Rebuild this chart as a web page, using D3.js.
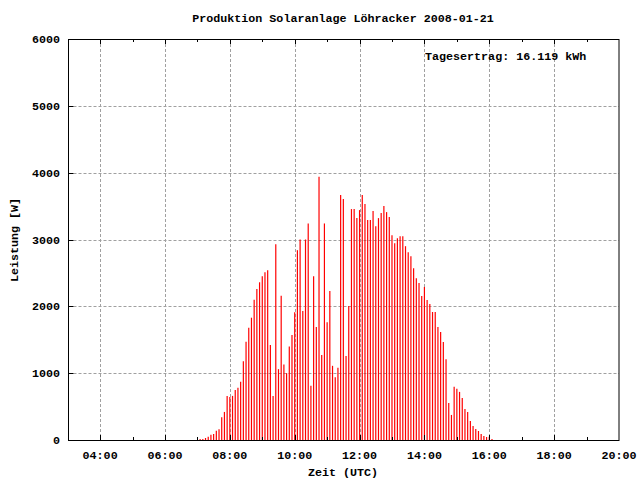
<!DOCTYPE html>
<html>
<head>
<meta charset="utf-8">
<script src="https://cdn.jsdelivr.net/npm/d3@7"></script>
<style>
  html, body { margin: 0; padding: 0; background: #fff; }
  text { font-family: "Liberation Mono", "DejaVu Sans Mono", monospace; font-weight: bold; font-size: 11.7px; fill: #000; }
</style>
</head>
<body>
<svg id="chart" width="640" height="480"></svg>
<script>
// ---- data ----
const title = "Produktion Solaranlage Löhracker 2008-01-21";
const annotation = "Tagesertrag: 16.119 kWh";
const xLabel = "Zeit (UTC)";
const yLabel = "Leistung [W]";
const startTime = "07:05";   // first sample
const stepMinutes = 5;       // sampling interval
const power = [
  15, 15, 30, 50, 80, 90, 140, 160, 340, 420,
  660, 645, 660, 750, 780, 870, 1180, 1470, 1680, 1830,
  2100, 2260, 2360, 2450, 2510, 2540, 1420, 660, 2930, 1060,
  2160, 1130, 1000, 1400, 1570, 1910, 2840, 3000, 1930, 3000,
  3240, 810, 2450, 1690, 3940, 1270, 3240, 1760, 2230, 1110,
  940, 1080, 3665, 3605, 1255, 2005, 3455, 3455, 3320, 3440,
  3665, 3530, 3290, 3290, 3425, 3200, 3320, 3395, 3500, 3410,
  3335, 3065, 2945, 3020, 3050, 3050, 2900, 2810, 2750, 2570,
  2420, 2350, 2155, 2290, 2095, 2035, 1915, 1915, 1690, 1615,
  1465, 1210, 555, 375, 795, 765, 720, 630, 465, 420,
  285, 210, 165, 135, 90, 60, 45, 50, 15
];
const yTicks = [0, 1000, 2000, 3000, 4000, 5000, 6000];
const xMajorHours = [4, 6, 8, 10, 12, 14, 16, 18, 20];
const xMinorHours = [5, 7, 9, 11, 13, 15, 17, 19];
const xDomainHours = [3.025, 20];
const yDomain = [0, 6000];

// ---- layout ----
const svg = d3.select("#chart");
const L = 68.5, R = 619, T = 39, B = 440;

const [sh, sm] = startTime.split(":").map(Number);
const start = sh + sm / 60;
const data = power.map((v, i) => ({ t: start + i * stepMinutes / 60, v }));

const x = d3.scaleLinear().domain(xDomainHours).range([L, R]);
const y = d3.scaleLinear().domain(yDomain).range([B, T]);
const fmt = h => String(h).padStart(2, "0") + ":00";

// grid
const grid = svg.append("g").attr("stroke", "#a0a0a0").attr("stroke-width", 1).attr("stroke-dasharray", "3,2");
grid.selectAll("line.gx").data(xMajorHours.filter(h => h < 20)).join("line")
  .attr("x1", d => Math.round(x(d)) + 0.5).attr("x2", d => Math.round(x(d)) + 0.5)
  .attr("y1", T).attr("y2", B);
grid.selectAll("line.gy").data(yTicks.filter(v => v > 0 && v < 6000)).join("line")
  .attr("x1", L).attr("x2", R)
  .attr("y1", d => Math.round(y(d)) + 0.5).attr("y2", d => Math.round(y(d)) + 0.5);

// impulses
svg.append("g").attr("stroke", "#ff0000").attr("stroke-width", 1.2)
  .selectAll("line").data(data).join("line")
  .attr("x1", d => x(d.t)).attr("x2", d => x(d.t))
  .attr("y1", y(0)).attr("y2", d => y(d.v));

// frame
svg.append("rect").attr("x", L).attr("y", T + 0.5).attr("width", R - L).attr("height", B - T)
  .attr("fill", "none").attr("stroke", "#000").attr("stroke-width", 1);

// ticks
const ticks = svg.append("g").attr("stroke", "#000").attr("stroke-width", 1);
xMajorHours.filter(h => h < 20).forEach(h => {
  const px = Math.round(x(h)) + 0.5;
  ticks.append("line").attr("x1", px).attr("x2", px).attr("y1", B).attr("y2", B - 5);
  ticks.append("line").attr("x1", px).attr("x2", px).attr("y1", T).attr("y2", T + 5);
});
xMinorHours.forEach(h => {
  const px = Math.round(x(h)) + 0.5;
  ticks.append("line").attr("x1", px).attr("x2", px).attr("y1", B).attr("y2", B - 3);
  ticks.append("line").attr("x1", px).attr("x2", px).attr("y1", T).attr("y2", T + 3);
});
yTicks.forEach(v => {
  const py = Math.round(y(v)) + 0.5;
  ticks.append("line").attr("x1", L).attr("x2", L + 5).attr("y1", py).attr("y2", py);
});

// tick labels
svg.append("g").selectAll("text").data(yTicks).join("text")
  .attr("x", 60).attr("y", d => y(d)).attr("dy", "0.35em").attr("text-anchor", "end").text(d => d);
svg.append("g").selectAll("text").data(xMajorHours).join("text")
  .attr("x", d => x(d)).attr("y", 459).attr("text-anchor", "middle").text(fmt);

// titles
svg.append("text").attr("x", 343).attr("y", 22).attr("text-anchor", "middle").text(title);
svg.append("text").attr("x", 343).attr("y", 476).attr("text-anchor", "middle").text(xLabel);
svg.append("text").attr("transform", "translate(18,240) rotate(-90)").attr("text-anchor", "middle").text(yLabel);
svg.append("text").attr("x", 425).attr("y", 60).text(annotation);
</script>
</body>
</html>
